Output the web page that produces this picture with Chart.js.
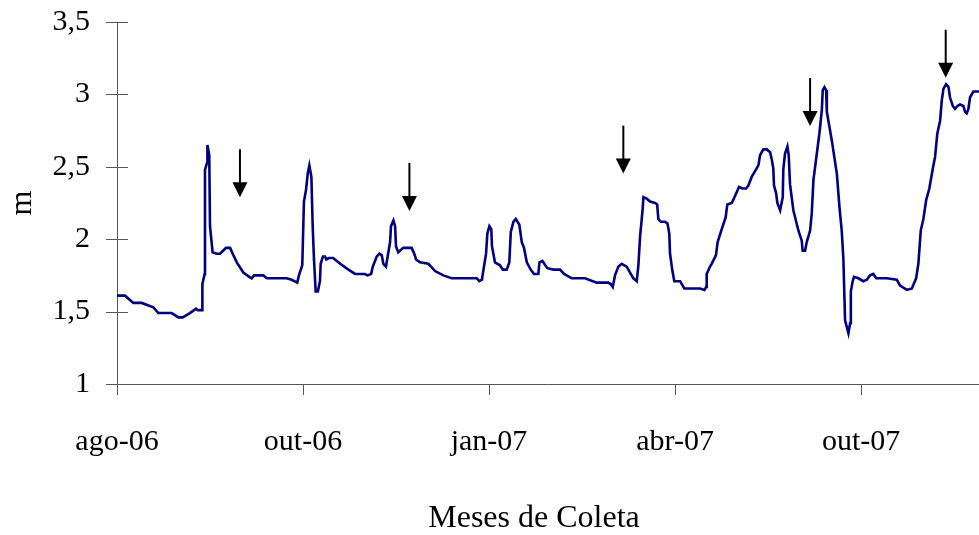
<!DOCTYPE html>
<html><head><meta charset="utf-8">
<script src="https://cdn.jsdelivr.net/npm/chart.js@4/dist/chart.umd.min.js"></script>
<style>html,body{margin:0;padding:0;background:#fff}</style>
</head><body>
<canvas id="c" width="979" height="535"></canvas>
<script>
// x positions (100 units between labelled ticks) and water level (m)
const xPositions = [0,4.3,8.8,13.3,19.5,22.2,29.4,33.0,35.3,39.2,42.5,43.4,45.7,45.9,47.1,47.3,48.5,48.6,49.6,50.0,51.4,53.6,55.4,58.6,60.8,62.2,64.4,67.9,71.1,72.4,73.7,78.7,80.5,91.2,93.9,96.9,97.8,99.6,100.5,101.6,102.6,103.4,104.5,105.2,105.9,106.8,108.0,109.1,109.5,110.7,111.8,112.5,113.9,116.2,120.0,124.4,128.0,133.3,134.6,136.6,137.5,139.6,141.0,142.3,143.2,144.6,145.5,146.8,147.3,148.6,149.5,150.0,151.2,153.9,158.4,159.8,160.8,162.9,167.4,171.0,175.4,179.9,193.4,194.8,196.2,196.9,198.4,199.1,200.2,201.2,201.6,203.2,205.9,207.4,209.5,210.9,211.7,213.1,214.4,216.3,217.6,218.8,220.3,222.4,224.2,226.5,227.1,228.7,229.7,231.4,234.6,238.2,240.3,244.5,251.6,257.9,264.1,265.4,266.5,267.7,269.5,271.3,274.0,276.2,277.6,279.4,280.3,281.2,282.6,283.0,284.8,286.6,289.2,290.4,291.0,292.3,294.6,295.9,296.9,297.3,298.6,299.6,302.7,305.0,313.4,315.8,316.7,317.0,318.8,319.7,322.0,322.9,325.1,327.2,328.1,330.5,332.3,334.4,336.2,338.2,339.4,341.2,344.8,345.7,347.5,349.3,351.1,352.0,352.8,353.2,354.3,355.0,356.5,357.9,358.2,359.1,360.4,361.1,361.8,363.6,366.3,368.1,368.6,369.9,370.8,372.6,373.5,374.4,376.2,377.6,378.9,379.4,380.3,381.2,381.6,384.3,387.0,388.4,389.6,390.5,391.4,393.2,394.1,394.5,395.5,396.2,398.6,401.2,403.1,404.8,406.6,408.1,413.8,419.2,421.0,424.6,427.3,429.6,430.8,432.1,433.5,435.0,436.7,438.6,439.8,441.0,442.5,443.4,444.3,445.7,447.0,447.8,449.3,450.5,451.8,453.2,455.0,455.9,456.8,457.7,458.6,460.4,463.4];
const levels = [1.61,1.61,1.56,1.56,1.53,1.49,1.49,1.46,1.46,1.49,1.52,1.51,1.51,1.69,1.76,2.48,2.53,2.65,2.58,2.09,1.91,1.90,1.90,1.94,1.94,1.90,1.84,1.77,1.74,1.73,1.75,1.75,1.73,1.73,1.72,1.70,1.75,1.82,2.26,2.34,2.46,2.51,2.43,2.09,1.86,1.64,1.64,1.71,1.83,1.88,1.88,1.86,1.87,1.87,1.83,1.79,1.76,1.76,1.75,1.76,1.81,1.88,1.90,1.89,1.83,1.81,1.88,1.98,2.09,2.13,2.09,1.95,1.91,1.94,1.94,1.90,1.86,1.84,1.83,1.78,1.75,1.73,1.73,1.71,1.72,1.78,1.90,2.04,2.09,2.07,1.95,1.84,1.82,1.79,1.79,1.84,2.05,2.12,2.14,2.10,1.98,1.94,1.84,1.79,1.76,1.76,1.84,1.85,1.83,1.80,1.79,1.79,1.76,1.73,1.73,1.70,1.70,1.69,1.67,1.75,1.81,1.83,1.81,1.76,1.73,1.71,1.82,2.02,2.21,2.29,2.28,2.26,2.25,2.24,2.14,2.12,2.12,2.11,2.04,1.90,1.78,1.71,1.71,1.66,1.66,1.65,1.67,1.76,1.81,1.83,1.89,1.98,2.07,2.15,2.24,2.25,2.30,2.36,2.35,2.35,2.37,2.43,2.51,2.58,2.62,2.62,2.60,2.55,2.49,2.37,2.32,2.25,2.20,2.29,2.48,2.59,2.64,2.58,2.38,2.20,2.06,1.99,1.92,1.92,1.98,2.06,2.18,2.41,2.59,2.73,2.89,3.03,3.05,3.03,2.88,2.68,2.45,2.22,2.06,1.86,1.44,1.35,1.42,1.64,1.71,1.74,1.73,1.71,1.72,1.75,1.76,1.73,1.73,1.72,1.68,1.65,1.66,1.73,1.83,2.06,2.14,2.27,2.35,2.49,2.57,2.73,2.82,2.96,3.04,3.07,3.05,2.98,2.92,2.90,2.92,2.93,2.92,2.88,2.87,2.90,2.98,3.02,3.02];
const tickPositions = [0,100,200,300,400];
const tickLabels = ['ago-06','out-06','jan-07','abr-07','out-07'];
const arrowX = [66.1,157.2,272.2,372.6,445.5];
const arrowTipY = [2.29,2.195,2.453,2.781,3.115];
const xTitle = 'Meses de Coleta';
const serif = '"Liberation Serif","Times New Roman",serif';

const points = xPositions.map((x,i)=>({x:x,y:levels[i]}));

const decor = {
  id:'decor',
  afterDraw(chart){
    const ctx = chart.ctx, xs = chart.scales.x, ys = chart.scales.y;
    const a = chart.chartArea;
    ctx.save();
    ctx.strokeStyle = '#555'; ctx.lineWidth = 1;
    ctx.beginPath();
    ys.ticks.forEach(t=>{
      const py = Math.round(ys.getPixelForValue(t.value))+0.5;
      ctx.moveTo(a.left-11, py); ctx.lineTo(a.left+11, py);
    });
    xs.ticks.forEach(t=>{
      const px = Math.round(xs.getPixelForValue(t.value))+0.5;
      ctx.moveTo(px, a.bottom); ctx.lineTo(px, a.bottom+11);
    });
    ctx.stroke();
    // arrows
    ctx.strokeStyle = '#000'; ctx.fillStyle = '#000'; ctx.lineWidth = 2;
    arrowX.forEach((v,i)=>{
      const px = xs.getPixelForValue(v), tip = ys.getPixelForValue(arrowTipY[i]);
      ctx.beginPath(); ctx.moveTo(px, tip-48); ctx.lineTo(px, tip-14); ctx.stroke();
      ctx.beginPath(); ctx.moveTo(px-7.5, tip-15); ctx.lineTo(px+7.5, tip-15); ctx.lineTo(px, tip); ctx.closePath(); ctx.fill();
    });
    // x axis title
    ctx.fillStyle = '#000';
    ctx.font = '32px ' + serif;
    ctx.textAlign = 'center'; ctx.textBaseline = 'middle';
    ctx.fillText(xTitle, 534, 519);
    ctx.restore();
  }
};

new Chart(document.getElementById('c'), {
  type:'line',
  data:{datasets:[{data:points, borderColor:'#000080', borderWidth:2.6, pointRadius:0, tension:0, fill:false}]},
  options:{
    responsive:false, animation:false, devicePixelRatio:1,
    layout:{padding:{top:22,right:0,bottom:0,left:0}},
    plugins:{legend:{display:false}, tooltip:{enabled:false}},
    scales:{
      x:{type:'linear', min:0, max:463.4,
        afterBuildTicks(s){ s.ticks = tickPositions.map(v=>({value:v})); },
        afterFit(s){ s.height = 151; s.paddingLeft = 0; s.paddingRight = 0; },
        grid:{display:true, drawOnChartArea:false, drawTicks:false},
        border:{display:true, color:'#555', width:1},
        ticks:{autoSkip:false, maxRotation:0, padding:40, color:'#000',
          font:{family:serif, size:30},
          callback:(v)=>tickLabels[tickPositions.indexOf(v)]},
        title:{display:false}
      },
      y:{min:1, max:3.5,
        afterFit(s){ s.width = 117; s.paddingTop = 0; s.paddingBottom = 0; },
        grid:{display:true, drawOnChartArea:false, drawTicks:false},
        border:{display:true, color:'#555', width:1},
        ticks:{stepSize:0.5, padding:27, color:'#000',
          font:{family:serif, size:30},
          callback:(v)=>String(v).replace('.',',')},
        title:{display:true, text:'m', color:'#000',
          font:{family:serif, size:32, lineHeight:1.2},
          padding:{top:3,bottom:0}}
      }
    }
  },
  plugins:[decor]
});
</script>
</body></html>
